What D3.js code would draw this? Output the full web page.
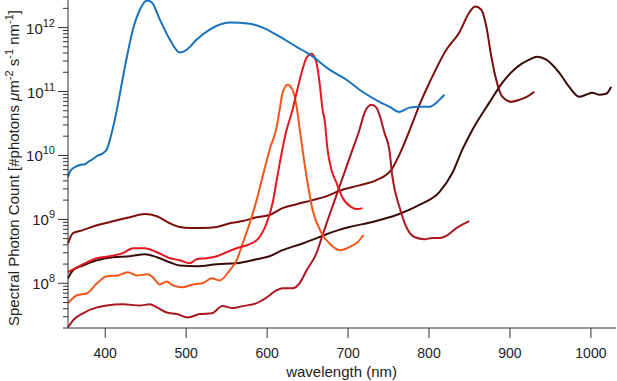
<!DOCTYPE html>
<html>
<head>
<meta charset="utf-8">
<script src="https://cdn.jsdelivr.net/npm/d3@7"></script>
<style>
  body { margin: 0; background: #fff; }
  svg { display: block; font-family: 'Liberation Sans', Arial, sans-serif; }
</style>
</head>
<body>
<div id="app"></div>
<script>
'use strict'
// spectra: [wavelength nm, photon count]
const blueSpec = [
  [354, 4.6e9], [356.5, 5.6e9], [362.6, 6.6e9], [368.8, 7.1e9], [375, 7.3e9], [378.7, 7.9e9],
  [383.6, 8.6e9], [389.8, 9.8e9], [396, 1.06e10], [402, 1.25e10], [408, 2.25e10], [414.4, 5.2e10],
  [420.6, 1.37e11], [426.8, 3.5e11], [434.2, 9.3e11], [442.8, 1.9e12], [451.4, 2.65e12], [457.6, 2.47e12],
  [467.5, 1.33e12], [479.8, 6.5e11], [492, 4.06e11], [500.8, 4.5e11], [513, 6.5e11], [529, 9.3e11],
  [553.8, 1.2e12], [578.5, 1.15e12], [594.5, 1.0e12], [615.5, 7.2e11], [636.4, 5.0e11], [652.5, 3.8e11],
  [677.1, 2.2e11], [698, 1.53e11], [717.8, 9.9e10], [738.8, 6.9e10], [751, 5.8e10], [763.5, 4.8e10],
  [775.8, 5.6e10], [788, 5.8e10], [800.5, 5.8e10], [812.8, 7.4e10], [819, 8.9e10]
]
const spec858 = [
  [354, 4.2e8], [360.2, 6.1e8], [372.5, 6.8e8], [389.8, 8.1e8], [405.8, 9.1e8], [430.5, 1.08e9],
  [449, 1.21e9], [463.8, 1.12e9], [479.8, 8.7e8], [492, 7.6e8], [504.5, 7.3e8], [520.5, 7.3e8],
  [537.8, 7.6e8], [553.8, 8.7e8], [569.8, 9.4e8], [587, 1.08e9], [603, 1.17e9], [619, 1.5e9],
  [636.4, 1.73e9], [656, 2.0e9], [677, 2.4e9], [689.5, 2.8e9], [714, 3.4e9], [735, 4.1e9],
  [753.6, 6.0e9], [767, 1.3e10], [779.5, 3.2e10], [790, 7.0e10], [800.5, 1.37e11], [821.4, 4.5e11],
  [837.5, 8.4e11], [849.8, 1.72e12], [857.2, 2.13e12], [864.6, 1.9e12], [870.8, 1.04e12], [877, 3.5e11],
  [883, 1.53e11], [890.5, 8.3e10], [901.6, 6.9e10], [911.5, 7.4e10], [921.3, 8.3e10], [930, 9.9e10]
]
const spec930 = [
  [354, 1.2e8], [360.2, 1.6e8], [372.5, 1.9e8], [389.8, 2.3e8], [409.5, 2.56e8], [430.5, 2.65e8],
  [449, 2.85e8], [463.8, 2.56e8], [479.8, 2.13e8], [492, 1.9e8], [513, 1.85e8], [537.8, 1.99e8],
  [562.4, 2.06e8], [587, 2.38e8], [603, 2.65e8], [619, 3.3e8], [643.8, 4.2e8], [664.8, 5.3e8],
  [677, 6.1e8], [701.8, 7.6e8], [730, 9.1e8], [759.8, 1.17e9], [788, 1.68e9], [812.8, 2.67e9],
  [828.8, 5.3e9], [841, 1.22e10], [853.5, 2.5e10], [874.5, 6.7e10], [890.5, 1.37e11], [907.8, 2.36e11],
  [923.8, 3.15e11], [933.7, 3.5e11], [944.8, 3.15e11], [960.8, 1.97e11], [973, 1.19e11], [985.5, 8.3e10],
  [994, 8.9e10], [1001.5, 9.6e10], [1010, 8.9e10], [1018.8, 9.2e10], [1025, 1.19e11]
]
const spec655 = [
  [354, 1.49e8], [365, 1.78e8], [377.4, 2.13e8], [389.8, 2.47e8], [405.8, 2.65e8], [421.8, 2.96e8],
  [434.2, 3.54e8], [449, 3.54e8], [463.8, 3.06e8], [479.8, 2.47e8], [492, 2.3e8], [504.5, 2.06e8],
  [513, 2.38e8], [525.4, 2.47e8], [537.8, 2.65e8], [550, 3.06e8], [562.4, 3.54e8], [578.5, 4.1e8],
  [590.8, 5.3e8], [599.4, 8.7e8], [606.8, 1.8e9], [611.8, 4.1e9], [624, 2.5e10], [630.3, 4.6e10],
  [636.4, 9.6e10], [642.6, 1.97e11], [648.8, 3.4e11], [655, 3.9e11], [661, 2.8e11], [664.8, 1.37e11],
  [668.5, 5.2e10], [671, 3.6e10], [674.7, 1.22e10], [679.6, 5.9e9], [685.8, 3.7e9], [693, 2.2e9],
  [704, 1.56e9], [711.7, 1.45e9], [717.8, 1.5e9]
]
const spec628 = [
  [354, 4.9e7], [365, 6.5e7], [377.4, 7.0e7], [389.8, 1.0e8], [402, 1.29e8], [415.7, 1.33e8],
  [428, 1.49e8], [439.1, 1.33e8], [452.7, 1.38e8], [458.8, 1.24e8], [467.5, 9.6e7], [476, 1.07e8],
  [483.5, 9.3e7], [495.8, 8.7e7], [508, 9.6e7], [520.5, 1.0e8], [531.6, 1.2e8], [541.5, 1.11e8],
  [553.8, 1.6e8], [562.4, 2.3e8], [569.8, 4.2e8], [578.5, 8.7e8], [587, 2.0e9], [593.3, 4.1e9],
  [603, 1.22e10], [611.8, 2.8e10], [615.5, 5.2e10], [619.2, 9.6e10], [625.3, 1.28e11], [631.5, 1.06e11],
  [636.4, 5.8e10], [640.1, 2.7e10], [643.8, 1.22e10], [648.8, 4.6e9], [656.2, 1.4e9], [667.3, 6.1e8],
  [679.6, 3.9e8], [689.5, 3.3e8], [701.8, 3.7e8], [711.7, 4.4e8], [719, 5.7e8]
]
const spec730 = [
  [354, 2.04e7], [360.2, 2.63e7], [372.5, 3.4e7], [389.8, 4.2e7], [402, 4.5e7], [421.8, 4.7e7],
  [442.8, 4.5e7], [455, 4.7e7], [463.8, 4.2e7], [476, 3.5e7], [488.4, 3.3e7], [502, 2.93e7],
  [516.8, 3.3e7], [531.6, 3.4e7], [545, 4.4e7], [557.5, 4.1e7], [569.8, 4.4e7], [587, 4.9e7],
  [599.4, 6.0e7], [611.8, 7.8e7], [619, 8.4e7], [631.5, 8.4e7], [640, 1.0e8], [648.8, 1.6e8],
  [661, 2.96e8], [668.5, 5.7e8], [677, 1.17e9], [687, 2.67e9], [705.4, 1.22e10], [714, 2.5e10],
  [720.2, 4.6e10], [728.8, 6.2e10], [735, 5.6e10], [738.8, 4.3e10], [745, 2.25e10], [751, 1.22e10],
  [754.8, 4.6e9], [763.5, 1.56e9], [772, 7.6e8], [782, 5.3e8], [794.3, 4.9e8], [804, 5.1e8],
  [812.8, 5.1e8], [821.4, 5.5e8], [833.8, 7.3e8], [849.8, 9.4e8]
]

const xTicks = [400, 500, 600, 700, 800, 900, 1000]
const yDecades = [8, 9, 10, 11, 12]

const series = [
  { data: spec930, color: '#3a0a0a' },
  { data: spec858, color: '#7c0e0e' },
  { data: spec730, color: '#ac1620' },
  { data: spec628, color: '#f2561a' },
  { data: spec655, color: '#e8161e' },
  { data: blueSpec, color: '#1672ba' }
]

const W = 617, H = 381
const x = d3.scaleLinear().domain([354, 1031]).range([68, 616])
const y = d3.scaleLog().domain([2e7, 2.7e12]).range([328, 0])

const svg = d3.select('#app').append('svg')
  .attr('width', W)
  .attr('height', H)

const line = d3.line()
  .x(d => x(d[0]))
  .y(d => y(d[1]))
  .curve(d3.curveMonotoneX)

svg.append('g').selectAll('path')
  .data(series)
  .enter().append('path')
  .attr('d', d => line(d.data))
  .attr('fill', 'none')
  .attr('stroke', d => d.color)
  .attr('stroke-width', 2)
  .attr('stroke-linejoin', 'round')

const axisColor = '#333'

// x axis
const xAxis = svg.append('g').attr('transform', 'translate(0,328)')
xAxis.append('line')
  .attr('x1', 68).attr('x2', 616)
  .attr('stroke', axisColor).attr('stroke-width', 1)
xAxis.selectAll('.tk')
  .data(xTicks)
  .enter().append('line')
  .attr('x1', d => x(d)).attr('x2', d => x(d))
  .attr('y1', 0).attr('y2', 10)
  .attr('stroke', axisColor)
xAxis.selectAll('text')
  .data(xTicks)
  .enter().append('text')
  .attr('x', d => x(d))
  .attr('y', 30)
  .attr('text-anchor', 'middle')
  .attr('font-size', 14)
  .attr('fill', '#222')
  .text(d => d)

svg.append('text')
  .attr('x', x(692))
  .attr('y', 377)
  .attr('text-anchor', 'middle')
  .attr('font-size', 15)
  .attr('fill', '#222')
  .text('wavelength (nm)')

// y axis
const yAxis = svg.append('g').attr('transform', 'translate(68,0)')
yAxis.append('line')
  .attr('y1', 0).attr('y2', 328)
  .attr('stroke', axisColor)
const minor = []
yDecades.concat([7]).forEach(k => {
  for (let m = 1; m < 10; m++) {
    const v = m * Math.pow(10, k)
    if (v >= 2e7 && v <= 2.7e12) minor.push({ v, major: m === 1 })
  }
})
yAxis.selectAll('.tk')
  .data(minor)
  .enter().append('line')
  .attr('x1', d => d.major ? -10 : -5).attr('x2', 0)
  .attr('y1', d => y(d.v)).attr('y2', d => y(d.v))
  .attr('stroke', axisColor)
const yl = yAxis.selectAll('text')
  .data(yDecades)
  .enter().append('text')
  .attr('x', -13)
  .attr('y', d => y(Math.pow(10, d)) + 6)
  .attr('text-anchor', 'end')
  .attr('font-size', 15)
  .attr('fill', '#222')
yl.append('tspan').text('10')
yl.append('tspan').attr('dy', -7).attr('font-size', 11).text(d => d)

const yt = svg.append('text')
  .attr('transform', 'translate(19,168) rotate(-90)')
  .attr('text-anchor', 'middle')
  .attr('font-size', 15)
  .attr('fill', '#222')
yt.append('tspan').text('Spectral Photon Count [#photons ')
yt.append('tspan').attr('font-style', 'italic').text('\u03bc')
yt.append('tspan').text('m')
yt.append('tspan').attr('dy', -6).attr('font-size', 11).text('-2')
yt.append('tspan').attr('dy', 6).text(' s')
yt.append('tspan').attr('dy', -6).attr('font-size', 11).text('-1')
yt.append('tspan').attr('dy', 6).text(' nm')
yt.append('tspan').attr('dy', -6).attr('font-size', 11).text('-1')
yt.append('tspan').attr('dy', 6).text(']')
</script>
</body>
</html>
